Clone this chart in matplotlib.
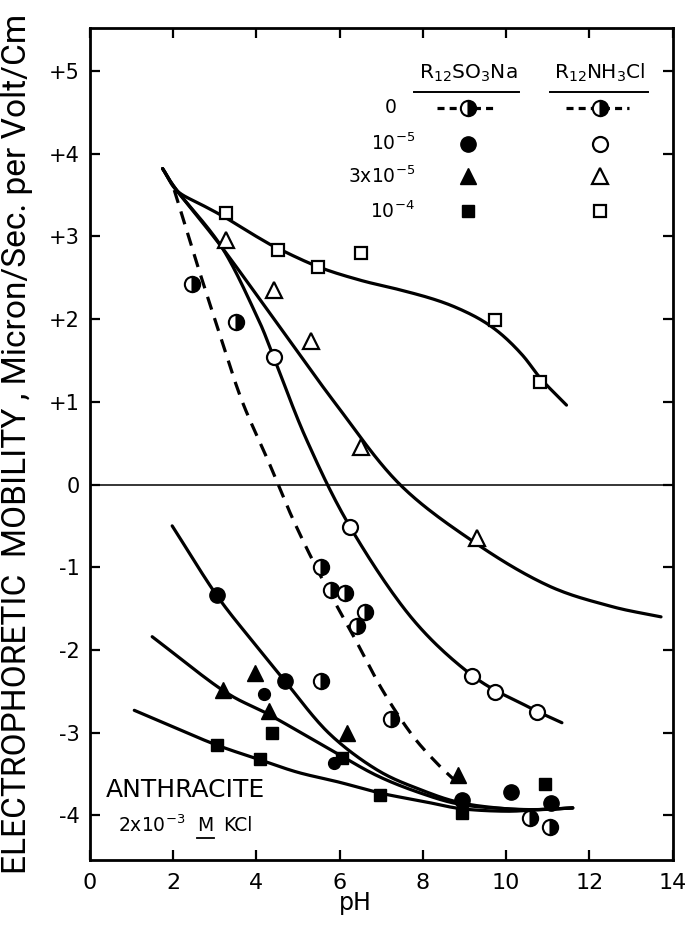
import numpy as np
import matplotlib
matplotlib.use("Agg")
import matplotlib.pyplot as plt
from matplotlib import font_manager

plt.rcParams['font.family'] = ['DejaVu Sans']
plt.rcParams['axes.unicode_minus'] = False

# ---------------- data ----------------
# R12NH3Cl series (open symbols)
nh_1e4_x = [3.27, 4.53, 5.49, 6.52, 9.74, 10.81]
nh_1e4_y = [3.28, 2.83, 2.63, 2.80, 1.99, 1.24]
nh_3e5_x = [3.27, 4.42, 5.32, 6.52, 9.31]
nh_3e5_y = [2.96, 2.35, 1.74, 0.45, -0.65]
nh_1e5_x = [4.42, 6.25, 9.19, 9.74, 10.74]
nh_1e5_y = [1.54, -0.51, -2.31, -2.51, -2.75]

# zero surfactant (half-filled circles)
zero_x = [2.46, 3.51, 5.56, 5.80, 6.13, 6.42, 6.61, 5.56, 7.23, 10.57, 11.05]
zero_y = [2.43, 1.96, -1.00, -1.28, -1.31, -1.71, -1.54, -2.37, -2.84, -4.03, -4.14]

# R12SO3Na series (filled symbols)
so_1e5_x = [3.05, 4.68, 8.93, 10.12, 11.07]
so_1e5_y = [-1.34, -2.37, -3.81, -3.72, -3.85]
so_1e5_small_x = [4.18, 5.87]
so_1e5_small_y = [-2.53, -3.37]
so_3e5_x = [3.20, 3.96, 4.30, 6.18, 8.85]
so_3e5_y = [-2.49, -2.28, -2.74, -3.00, -3.51]
so_1e4_x = [3.05, 4.10, 4.37, 6.06, 6.97, 8.93, 10.93]
so_1e4_y = [-3.15, -3.32, -3.00, -3.31, -3.75, -3.97, -3.62]

# hand-drawn fitted curves (control points)
c_nh4_x = [1.75, 2.1, 2.7, 3.25, 4.0, 4.5, 5.5, 6.5, 7.4, 8.2, 8.8, 9.4, 9.9, 10.4, 10.85, 11.45]
c_nh4_y = [3.82, 3.55, 3.38, 3.23, 3.00, 2.86, 2.63, 2.47, 2.36, 2.25, 2.14, 1.99, 1.81, 1.56, 1.27, 0.96]
c_nh3_x = [1.75, 2.1, 3.17, 4.5, 5.9, 7.45, 9.3, 11.0, 12.5, 13.72]
c_nh3_y = [3.82, 3.55, 2.87, 1.95, 0.98, 0.0, -0.72, -1.22, -1.47, -1.60]
c_nh5_x = [1.75, 2.1, 3.17, 4.0, 4.42, 5.2, 6.25, 7.71, 9.19, 10.5, 11.34]
c_nh5_y = [3.82, 3.55, 2.87, 2.05, 1.54, 0.55, -0.51, -1.60, -2.31, -2.68, -2.88]
c_zero_x = [2.03, 2.55, 3.1, 3.65, 4.3, 4.89, 5.56, 6.28, 7.0, 7.7, 8.3, 8.88]
c_zero_y = [3.56, 2.71, 1.85, 1.02, 0.27, -0.43, -1.12, -1.78, -2.46, -3.00, -3.35, -3.63]
c_so5_x = [1.98, 3.05, 4.0, 4.68, 5.73, 6.9, 8.0, 8.93, 10.0, 10.8, 11.6]
c_so5_y = [-0.50, -1.34, -1.95, -2.37, -3.00, -3.45, -3.70, -3.85, -3.92, -3.93, -3.91]
c_so3_x = [1.5, 3.2, 4.3, 5.73, 6.9, 8.0, 8.93, 10.0, 10.8, 11.6]
c_so3_y = [-1.84, -2.49, -2.78, -3.19, -3.52, -3.74, -3.87, -3.92, -3.93, -3.91]
c_so4_x = [1.07, 2.0, 3.05, 4.1, 5.0, 6.0, 6.97, 8.0, 8.93, 10.0, 10.8, 11.6]
c_so4_y = [-2.73, -2.93, -3.15, -3.33, -3.48, -3.60, -3.73, -3.83, -3.92, -3.95, -3.93, -3.91]

x_ticks = [0, 2, 4, 6, 8, 10, 12, 14]
y_ticks = [-4, -3, -2, -1, 0, 1, 2, 3, 4, 5]
y_ticklabels = ['-4', '-3', '-2', '-1', '0', '+1', '+2', '+3', '+4', '+5']
conc_labels = ['0', '10$^{-5}$', '3x10$^{-5}$', '10$^{-4}$']
ylabel_text = 'ELECTROPHORETIC  MOBILITY , Micron/Sec. per Volt/Cm'


def smooth(xs, ys, n=24):
    P = np.column_stack([xs, ys]).astype(float)
    P = np.vstack([2 * P[0] - P[1], P, 2 * P[-1] - P[-2]])
    out = []
    t = np.linspace(0, 1, n, endpoint=False)[:, None]
    for i in range(1, len(P) - 2):
        p0, p1, p2, p3 = P[i - 1], P[i], P[i + 1], P[i + 2]
        pts = 0.5 * ((2 * p1) + (-p0 + p2) * t + (2 * p0 - 5 * p1 + 4 * p2 - p3) * t ** 2
                     + (-p0 + 3 * p1 - 3 * p2 + p3) * t ** 3)
        out.append(pts)
    out.append(P[-2][None])
    A = np.vstack(out)
    return A[:, 0], A[:, 1]


installed = {f.name for f in font_manager.fontManager.ttflist}
narrow = 'DejaVu Sans'
for cand in ['Liberation Sans Narrow', 'DejaVu Sans Condensed', 'Roboto', 'Liberation Sans']:
    if cand in installed:
        narrow = cand
        break

fig = plt.figure(figsize=(6.85, 9.48), dpi=100)
ax = fig.add_axes([0.131, 0.0928, 0.851, 0.8777])
ax.set_xlim(0, 14)
ax.set_ylim(-4.54, 5.52)

K = 'black'
LW = 2.3
for cx, cy in [(c_nh4_x, c_nh4_y), (c_nh3_x, c_nh3_y), (c_nh5_x, c_nh5_y),
               (c_so5_x, c_so5_y), (c_so3_x, c_so3_y), (c_so4_x, c_so4_y)]:
    sx, sy = smooth(cx, cy)
    ax.plot(sx, sy, color=K, lw=LW, solid_capstyle='round', zorder=2)
sx, sy = smooth(c_zero_x, c_zero_y)
ax.plot(sx, sy, color=K, lw=LW, linestyle=(0, (4.2, 2.8)), zorder=2)

ax.axhline(0, color=K, lw=1.1, zorder=1)

# markers
open_kw = dict(linestyle='none', markerfacecolor='white', markeredgecolor=K, markeredgewidth=1.6, zorder=4)
fill_kw = dict(linestyle='none', color=K, zorder=4)
half_kw = dict(linestyle='none', marker='o', fillstyle='right', markerfacecolor=K,
               markerfacecoloralt='white', markeredgecolor=K, markeredgewidth=1.5, markersize=11, zorder=4)

ax.plot(nh_1e4_x, nh_1e4_y, marker='s', markersize=8.6, **open_kw)
ax.plot(nh_3e5_x, nh_3e5_y, marker='^', markersize=11, **open_kw)
ax.plot(nh_1e5_x, nh_1e5_y, marker='o', markersize=10.8, **open_kw)
ax.plot(zero_x, zero_y, **half_kw)
ax.plot(so_1e5_x, so_1e5_y, marker='o', markersize=11, **fill_kw)
ax.plot(so_1e5_small_x, so_1e5_small_y, marker='o', markersize=8.5, **fill_kw)
ax.plot(so_3e5_x, so_3e5_y, marker='^', markersize=11.5, **fill_kw)
ax.plot(so_1e4_x, so_1e4_y, marker='s', markersize=9.2, **fill_kw)

# axes styling
for s in ax.spines.values():
    s.set_linewidth(2.0)
ax.set_xticks(x_ticks)
ax.set_xticklabels([str(v) for v in x_ticks])
ax.set_yticks(y_ticks)
ax.set_yticklabels(y_ticklabels)
ax.tick_params(axis='both', direction='in', length=7, width=1.6, top=True, right=True)
ax.tick_params(axis='x', labelsize=16, pad=9)
ax.tick_params(axis='y', labelsize=15, pad=7)

fig.text(0.518, 0.047, 'pH', ha='center', va='center', fontsize=17)

yl = fig.text(0.025, 0.532, ylabel_text, rotation=90, ha='center', va='center',
              fontsize=18, family=[narrow, 'DejaVu Sans'])
fig.canvas.draw()
bb = yl.get_window_extent(fig.canvas.get_renderer())
yl.set_fontsize(18 * 860.0 / bb.height)

# legend block (drawn by hand, as in the original)
T = ax.transAxes
col1, col2 = 0.649, 0.875
rows = [0.904, 0.861, 0.822, 0.780]
ax.text(col1, 0.946, 'R$_{12}$SO$_3$Na', transform=T, ha='center', va='center', fontsize=14.5)
ax.text(col2, 0.946, 'R$_{12}$NH$_3$Cl', transform=T, ha='center', va='center', fontsize=14.5)
ax.plot([0.556, 0.737], [0.923, 0.923], transform=T, color=K, lw=1.4)
ax.plot([0.789, 0.958], [0.923, 0.923], transform=T, color=K, lw=1.4)
for i, lab in enumerate(conc_labels):
    ax.text(0.527 if i == 0 else 0.558, rows[i], lab, transform=T, ha='right', va='center', fontsize=13.5)

for cx, x0, x1 in [(col1, 0.596, 0.697), (col2, 0.817, 0.925)]:
    ax.plot([x0, x1], [rows[0], rows[0]], transform=T, color=K, lw=LW, linestyle=(0, (2.2, 1.6)))
    ax.plot([cx], [rows[0]], transform=T, **half_kw)
ax.plot([col1], [rows[1]], transform=T, marker='o', markersize=11, **fill_kw)
ax.plot([col1], [rows[2]], transform=T, marker='^', markersize=11.5, **fill_kw)
ax.plot([col1], [rows[3]], transform=T, marker='s', markersize=8.6, **fill_kw)
ax.plot([col2], [rows[1]], transform=T, marker='o', markersize=10.8, **open_kw)
ax.plot([col2], [rows[2]], transform=T, marker='^', markersize=11, **open_kw)
ax.plot([col2], [rows[3]], transform=T, marker='s', markersize=8.6, **open_kw)

# annotation
ax.text(0.027, 0.0845, 'ANTHRACITE', transform=T, ha='left', va='center', fontsize=18)
ax.text(0.049, 0.042, '2x10$^{-3}$', transform=T, ha='left', va='center', fontsize=13.5)
ax.text(0.199, 0.042, 'M', transform=T, ha='center', va='center', fontsize=13.5)
ax.plot([0.184, 0.214], [0.0265, 0.0265], transform=T, color=K, lw=1.3)
ax.text(0.229, 0.042, 'KCl', transform=T, ha='left', va='center', fontsize=13.5)

fig.savefig('out.png', dpi=100)
